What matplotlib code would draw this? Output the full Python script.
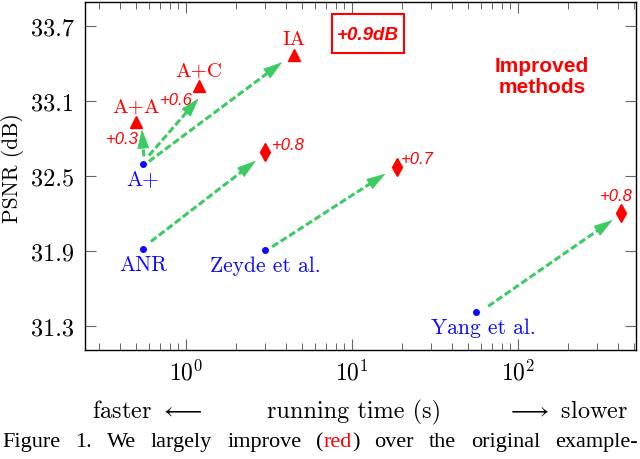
import numpy as np
import matplotlib
matplotlib.use('Agg')
import matplotlib.pyplot as plt
from matplotlib.ticker import FixedLocator, NullFormatter
from matplotlib.patches import Rectangle, Polygon
from matplotlib.lines import Line2D
from matplotlib.transforms import IdentityTransform

plt.rcParams['mathtext.fontset'] = 'cm'
plt.rcParams['axes.formatter.use_mathtext'] = True

# ---------------- data ----------------
base_names = ['A+', 'ANR', 'Zeyde et al.', 'Yang et al.']
base_time = [0.55, 0.55, 3.0, 56.0]
base_psnr = [32.60, 31.92, 31.91, 31.41]

adv_names = ['A+A', 'A+C', 'IA']          # improved variants of A+
adv_time = [0.50, 1.20, 4.5]
adv_psnr = [32.93, 33.22, 33.47]
adv_gain = ['+0.3', '+0.6', '+0.9dB']

imp_time = [3.0, 18.6, 417.0]             # improved ANR / Zeyde / Yang
imp_psnr = [32.69, 32.57, 32.20]
imp_gain = ['+0.8', '+0.7', '+0.8']

ytick_values = [31.3, 31.9, 32.5, 33.1, 33.7]
ytick_labels = ['31.3', '31.9', '32.5', '33.1', '33.7']
xtick_values = [1, 10, 100]
xtick_labels = [r'$10^{0}$', r'$10^{1}$', r'$10^{2}$']
xminor_values = [m * d for d in (0.1, 1, 10, 100) for m in range(2, 10)]

ylabel_text = 'PSNR (dB)'
xlabel_parts = [r'faster $\longleftarrow$', 'running time (s)', r'$\longrightarrow$ slower']
improved_text = 'Improved\nmethods'
caption_words = [[('Figure', 'black')], [('1.', 'black')], [('We', 'black')],
                 [('largely', 'black')], [('improve', 'black')],
                 [('(', 'black'), ('red', '#ff0000'), (')', 'black')],
                 [('over', 'black')], [('the', 'black')], [('original', 'black')],
                 [('example-', 'black')]]

# ---------------- style ----------------
RED = '#ff0000'
BLUE = '#0a0aff'
GREEN = '#3ccb63'
CM = 'cmr10'

fig = plt.figure(figsize=(6.4, 4.6), dpi=100)
ax = fig.add_axes([85 / 640, 1 - 351 / 460, 551 / 640, 348 / 460])
ax.set_xscale('log')
ax.set_xlim(0.2464, 513.8)
ax.set_ylim(31.108, 33.892)

ax.xaxis.set_major_locator(FixedLocator(xtick_values))
ax.set_xticklabels(xtick_labels, fontsize=17)
ax.xaxis.set_minor_locator(FixedLocator(xminor_values))
ax.xaxis.set_minor_formatter(NullFormatter())
ax.set_yticks(ytick_values)
ax.set_yticklabels(ytick_labels, fontsize=17.5, family=CM)
ax.yaxis.set_minor_locator(FixedLocator([]))

ax.tick_params(which='both', direction='in', top=True, right=True, color='0.4')
ax.tick_params(which='major', length=8, width=0.8)
ax.tick_params(which='minor', length=5, width=0.7)
ax.tick_params(axis='x', which='major', pad=7)
ax.tick_params(axis='y', which='major', pad=8)
for s in ax.spines.values():
    s.set_linewidth(1.0)

# ---------------- dashed green arrows (drawn in pixel space) ----------------
ident = IdentityTransform()
HEAD_L, HEAD_HW = 18.0, 5.5

def arrow(src, dst, start_off, tip_off):
    s = ax.transData.transform(src) + np.array([start_off[0], -start_off[1]])
    e = ax.transData.transform(dst) + np.array([tip_off[0], -tip_off[1]])
    d = e - s
    u = d / np.hypot(*d)
    n = np.array([-u[1], u[0]])
    b = e - u * HEAD_L
    fig.add_artist(Line2D([s[0], b[0] + u[0] * 2], [s[1], b[1] + u[1] * 2],
                          transform=ident, color=GREEN, lw=2.2,
                          linestyle=(0, (2.3, 1.0)), solid_capstyle='butt',
                          dash_capstyle='butt', zorder=3))
    fig.add_artist(Polygon([e, b + n * HEAD_HW, b - n * HEAD_HW], closed=True,
                           transform=ident, facecolor=GREEN, edgecolor=GREEN,
                           lw=0.5, zorder=3))

# offsets in pixels (x right, y down) from the source / target marks
adv_start_off = [(1, -7), (6, -8), (6, -2)]
adv_tip_off = [(6, 8), (-1, 13), (-13, 8)]
imp_start_off = [(8, -7), (7, -3), (12, -6)]
imp_tip_off = [(-10, 9), (-12, 7), (-9, 7)]

for i, (t, p) in enumerate(zip(adv_time, adv_psnr)):
    arrow((base_time[0], base_psnr[0]), (t, p), adv_start_off[i], adv_tip_off[i])
for i, (t, p) in enumerate(zip(imp_time, imp_psnr)):
    arrow((base_time[i + 1], base_psnr[i + 1]), (t, p), imp_start_off[i], imp_tip_off[i])

# markers
ax.plot(base_time, base_psnr, 'o', color=BLUE, ms=4, ls='none', zorder=5)
ax.plot(adv_time, adv_psnr, '^', color=RED, ms=8, ls='none', zorder=5)
ax.plot(imp_time, imp_psnr, 'd', color=RED, ms=9, ls='none', zorder=5)

# labels
base_off = [(0, -11), (0, -11), (0, -11), (5, -11)]
for n_, t, p, o in zip(base_names, base_time, base_psnr, base_off):
    ax.annotate(n_, (t, p), xytext=o, textcoords='offset points', ha='center',
                va='center', color=BLUE, fontsize=15.5, family=CM)
for n_, t, p in zip(adv_names, adv_time, adv_psnr):
    ax.annotate(n_, (t, p), xytext=(0, 11), textcoords='offset points', ha='center',
                va='center', color=RED, fontsize=15, family=CM)
adv_gain_off = [(-10, -11.5), (-16.5, -10)]
for g, t, p, o in zip(adv_gain[:2], adv_time[:2], adv_psnr[:2], adv_gain_off):
    ax.annotate(g, (t, p), xytext=o, textcoords='offset points', ha='center',
                va='center', color=RED, fontsize=12, style='italic',
                family='Liberation Sans')
imp_gain_off = [(16.5, 5.8), (15, 6.3), (-3.6, 13)]
for g, t, p, o in zip(imp_gain, imp_time, imp_psnr, imp_gain_off):
    ax.annotate(g, (t, p), xytext=o, textcoords='offset points', ha='center',
                va='center', color=RED, fontsize=12, style='italic',
                family='Liberation Sans')

# boxed total gain
ax.add_patch(Rectangle((0.448, 0.853), 0.131, 0.1125, transform=ax.transAxes,
                       fill=False, edgecolor=RED, lw=1.5, zorder=6))
ax.text(0.5136, 0.907, adv_gain[2], transform=ax.transAxes, ha='center', va='center',
        color=RED, fontsize=13.5, style='italic', weight='bold', family='Liberation Sans')
ax.text(0.829, 0.787, improved_text, transform=ax.transAxes, ha='center', va='center',
        color=RED, fontsize=15, weight='bold', family='Liberation Sans', linespacing=1.15)

# axis labels
fig.text(13 / 640, 1 - 168 / 460, ylabel_text, rotation=90, ha='center', va='center',
         fontsize=15.5, family=CM)
yb = 1 - 412 / 460
fig.text(92 / 640, yb, xlabel_parts[0], ha='left', va='center', fontsize=17.5, family=CM)
fig.text(354.5 / 640, yb, xlabel_parts[1], ha='center', va='center', fontsize=17.5, family=CM)
fig.text(628 / 640, yb, xlabel_parts[2], ha='right', va='center', fontsize=17.5, family=CM)

# caption line, fully justified between the page margins
fig.canvas.draw()
renderer = fig.canvas.get_renderer()
yc = 1 - 443 / 460
groups = []
total = 0.0
for grp in caption_words:
    items = []
    for txt, col in grp:
        tt = fig.text(0, yc, txt, color=col, fontsize=16, family='Liberation Serif',
                      ha='left', va='center')
        ww = tt.get_window_extent(renderer).width
        items.append((tt, ww))
        total += ww
    groups.append(items)
x0, x1 = 2.0, 638.0
gap = (x1 - x0 - total) / (len(groups) - 1)
x = x0
for items in groups:
    for tt, ww in items:
        tt.set_x(x / 640)
        x += ww
    x += gap

fig.savefig('out.png', dpi=100)
